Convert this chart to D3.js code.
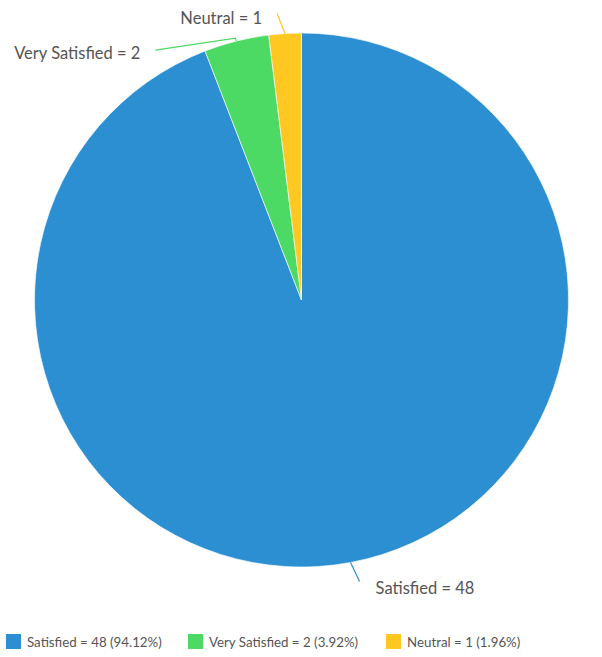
<!DOCTYPE html>
<html>
<head>
<meta charset="utf-8">
<script src="https://cdn.jsdelivr.net/npm/d3@7"></script>
<style>
    body { margin: 0; background: #fff; }
    text { font-family: Lato, 'Open Sans', sans-serif; fill: #555; }
</style>
</head>
<body>
<div id="chart"></div>
<script>
const categories = ['Satisfied', 'Very Satisfied', 'Neutral'];
const counts = [48, 2, 1];
const colors = ['#2b8fd2', '#4cd964', '#fec722'];

const WIDTH = 602;
const HEIGHT = 657;
const CX = 301.5;
const CY = 300;
const RADIUS = 267;

// leader line bends and label anchors, relative to the slice edge point
const leaders = [
    { pts: [[9, 19]], label: [25, 26], anchor: 'start' },
    { pts: [[-1, -3], [-81, 9]], label: [-96, 12], anchor: 'end' },
    { pts: [[-8, -20]], label: [-23, -15], anchor: 'end' },
];

const total = d3.sum(counts);
const rows = categories.map((c, i) => ({ name: c, value: counts[i], color: colors[i], i }));

const svg = d3
    .select('#chart')
    .append('svg')
    .attr('width', WIDTH)
    .attr('height', HEIGHT);

const pie = d3.pie().sort(null).value((d) => d.value);
const arc = d3.arc().innerRadius(0).outerRadius(RADIUS);
const arcs = pie(rows);

const g = svg.append('g').attr('transform', `translate(${CX},${CY})`);

g.selectAll('path.slice')
    .data(arcs)
    .join('path')
    .attr('class', 'slice')
    .attr('d', arc)
    .attr('fill', (d) => d.data.color)
    .attr('stroke', '#fff')
    .attr('stroke-width', 0.6);

const edge = (d) => {
    const a = (d.startAngle + d.endAngle) / 2;
    return [RADIUS * Math.sin(a), -RADIUS * Math.cos(a)];
};

g.selectAll('path.leader')
    .data(arcs)
    .join('path')
    .attr('class', 'leader')
    .attr('fill', 'none')
    .attr('stroke', (d) => d.data.color)
    .attr('stroke-width', 1.2)
    .attr('d', (d) => {
        const [x, y] = edge(d);
        const l = leaders[d.data.i];
        return d3.line()([[x, y], ...l.pts.map((p) => [x + p[0], y + p[1]])]);
    });

g.selectAll('text.label')
    .data(arcs)
    .join('text')
    .attr('class', 'label')
    .attr('x', (d) => edge(d)[0] + leaders[d.data.i].label[0])
    .attr('y', (d) => edge(d)[1] + leaders[d.data.i].label[1])
    .attr('dy', '0.35em')
    .attr('text-anchor', (d) => leaders[d.data.i].anchor)
    .style('font-size', '16.5px')
    .text((d) => `${d.data.name} = ${d.data.value}`);

// legend
const legendX = [6, 188, 386];
const legend = svg
    .append('g')
    .selectAll('g')
    .data(rows)
    .join('g')
    .attr('transform', (d) => `translate(${legendX[d.i]},634)`);

legend.append('rect').attr('width', 15).attr('height', 15).attr('fill', (d) => d.color);

legend
    .append('text')
    .attr('x', 21)
    .attr('y', 8)
    .attr('dy', '0.35em')
    .style('font-size', '13.3px')
    .text((d) => `${d.name} = ${d.value} (${((d.value / total) * 100).toFixed(2)}%)`);
</script>
</body>
</html>
